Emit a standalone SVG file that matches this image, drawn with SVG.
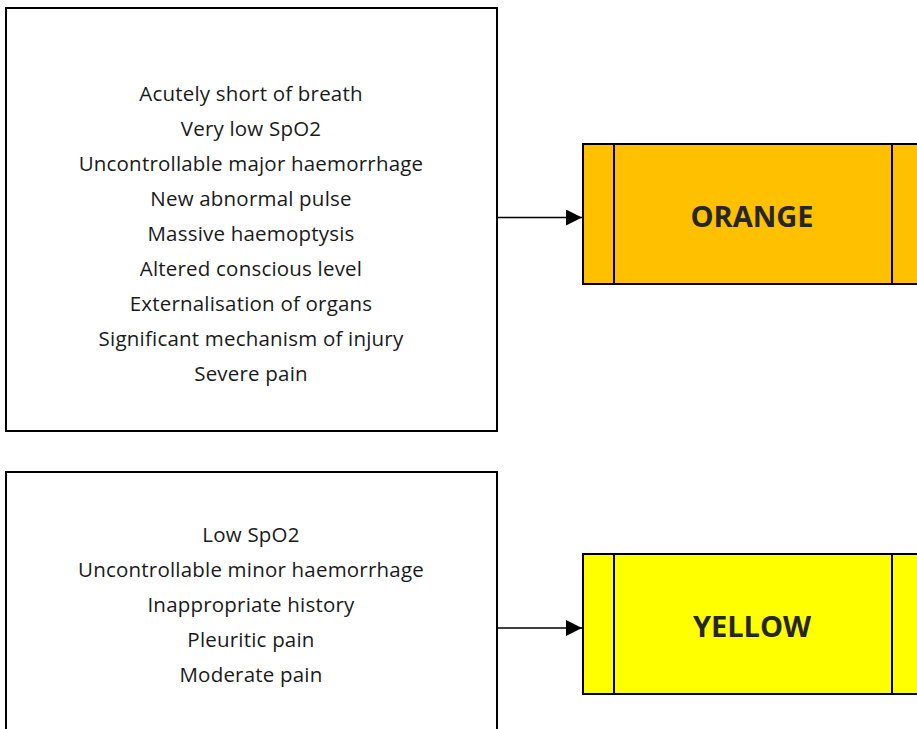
<svg xmlns="http://www.w3.org/2000/svg" width="917" height="729" viewBox="0 0 917 729">
  <style>
    .box { fill: #ffffff; stroke: #000000; stroke-width: 2; }
    .band { stroke: #000000; stroke-width: 2; }
    .list { font-family: "Open Sans", "Liberation Sans", sans-serif; font-size: 20.5px; letter-spacing: 0.2px; fill: #1a1a1a; text-anchor: middle; }
    .label { font-family: "Open Sans", "Liberation Sans", sans-serif; font-size: 29px; font-weight: bold; fill: #262626; text-anchor: middle; }
    .link { stroke: #000000; stroke-width: 1.5; fill: none; }
  </style>
  <defs>
    <marker id="arrow" viewBox="0 0 10 10" refX="10" refY="5" markerWidth="16" markerHeight="16" markerUnits="userSpaceOnUse" orient="auto">
      <path d="M0,0 L10,5 L0,10 Z" fill="#000000"/>
    </marker>
  </defs>
  <rect width="917" height="729" fill="#ffffff"/>

  <g id="criteria-orange">
    <rect class="box" x="6" y="8" width="491" height="423"/>
    <text class="list" x="251" y="101">Acutely short of breath</text>
    <text class="list" x="251" y="136">Very low SpO2</text>
    <text class="list" x="251" y="171">Uncontrollable major haemorrhage</text>
    <text class="list" x="251" y="206">New abnormal pulse</text>
    <text class="list" x="251" y="241">Massive haemoptysis</text>
    <text class="list" x="251" y="276">Altered conscious level</text>
    <text class="list" x="251" y="311">Externalisation of organs</text>
    <text class="list" x="251" y="346">Significant mechanism of injury</text>
    <text class="list" x="251" y="381">Severe pain</text>
  </g>

  <g id="criteria-yellow">
    <rect class="box" x="6" y="472" width="491" height="280"/>
    <text class="list" x="251" y="542">Low SpO2</text>
    <text class="list" x="251" y="577">Uncontrollable minor haemorrhage</text>
    <text class="list" x="251" y="612">Inappropriate history</text>
    <text class="list" x="251" y="647">Pleuritic pain</text>
    <text class="list" x="251" y="682">Moderate pain</text>
  </g>

  <g id="level-orange">
    <rect class="band" x="583" y="144" width="360" height="140" fill="#ffc000"/>
    <line class="band" x1="614" y1="144" x2="614" y2="284"/>
    <line class="band" x1="892" y1="144" x2="892" y2="284"/>
    <text class="label" x="752" y="227">ORANGE</text>
  </g>

  <g id="level-yellow">
    <rect class="band" x="583" y="554" width="360" height="140" fill="#ffff00"/>
    <line class="band" x1="614" y1="554" x2="614" y2="694"/>
    <line class="band" x1="892" y1="554" x2="892" y2="694"/>
    <text class="label" x="752" y="637">YELLOW</text>
  </g>

  <g id="connectors">
    <line class="link" x1="497" y1="217.5" x2="582" y2="217.5" marker-end="url(#arrow)"/>
    <line class="link" x1="497" y1="628" x2="582" y2="628" marker-end="url(#arrow)"/>
  </g>
</svg>
